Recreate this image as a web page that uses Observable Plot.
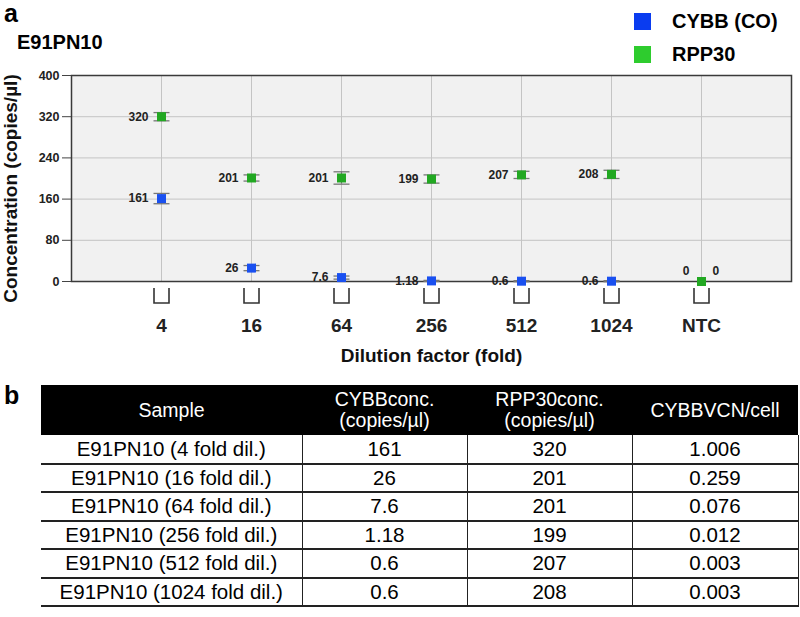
<!DOCTYPE html>
<html>
<head>
<meta charset="utf-8">
<script src="https://cdn.jsdelivr.net/npm/d3@7"></script>
<script src="https://cdn.jsdelivr.net/npm/@observablehq/plot@0.6"></script>
<style>
  html, body { margin: 0; padding: 0; background: #fff; }
  body { font-family: "Liberation Sans", Arial, sans-serif; }
  #wrap { position: relative; width: 800px; height: 617px; overflow: hidden; }
  #chart { position: absolute; left: 0; top: 0; }
  .panel { position: absolute; font-weight: bold; font-size: 25px; line-height: 1; }
  .title { position: absolute; left: 17px; top: 32px; font-weight: bold; font-size: 20px; line-height: 20px; }
  .leg { position: absolute; left: 634px; display: flex; align-items: center; font-weight: bold; font-size: 20px; }
  .leg span.sw { display: inline-block; width: 17px; height: 17px; margin-right: 21px; }
  table { position: absolute; left: 41px; top: 385px; border-collapse: collapse; table-layout: fixed; width: 757px; font-size: 20.5px; }
  th { background: #000; color: #fff; font-weight: normal; height: 50px; padding: 0; line-height: 21px; font-size: 19.5px; }
  td { height: 28.5px; padding: 0; text-align: center; border-bottom: 2px solid #222; border-right: 1.5px solid #222; line-height: 20px; box-sizing: border-box; }
</style>
</head>
<body>
<div id="wrap">
  <div id="chart"></div>
  <div class="panel" style="left:4px;top:1px;">a</div>
  <div class="title">E91PN10</div>
  <div id="legend"></div>
  <div class="panel" style="left:4px;top:383px;">b</div>
  <table id="tbl"></table>
</div>
<script>
// ---- data ----
const categories = ["4", "16", "64", "256", "512", "1024", "NTC"];
const cybbValues = [161, 26, 7.6, 1.18, 0.6, 0.6, 0];
const rpp30Values = [320, 201, 201, 199, 207, 208, 0];
const cybbErrors = [10, 5, 3, 1, 1, 1, 0];
const rpp30Errors = [8, 6, 12, 8, 7, 8, 0];
const cybbLabels = ["161", "26", "7.6", "1.18", "0.6", "0.6", "0"];
const rpp30Labels = ["320", "201", "201", "199", "207", "208", "0"];
const yTicks = [0, 80, 160, 240, 320, 400];
const seriesNames = ["CYBB (CO)", "RPP30"];
const seriesColors = ["#1a50f0", "#22a822"];
const legendColors = ["#0a3cf0", "#2ecc2e"];

const tableHeader = ["Sample", "CYBBconc.<br>(copies/µl)", "RPP30conc.<br>(copies/µl)", "CYBBVCN/cell"];
const tableSamples = ["E91PN10 (4 fold dil.)", "E91PN10 (16 fold dil.)", "E91PN10 (64 fold dil.)", "E91PN10 (256 fold dil.)", "E91PN10 (512 fold dil.)", "E91PN10 (1024 fold dil.)"];
const tableCybb = ["161", "26", "7.6", "1.18", "0.6", "0.6"];
const tableRpp30 = ["320", "201", "201", "199", "207", "208"];
const tableVcn = ["1.006", "0.259", "0.076", "0.012", "0.003", "0.003"];

// ---- build ----
const points = [];
categories.forEach((c, i) => {
  points.push({cat: c, series: seriesNames[0], value: cybbValues[i], err: cybbErrors[i], label: cybbLabels[i]});
});
categories.forEach((c, i) => {
  points.push({cat: c, series: seriesNames[1], value: rpp30Values[i], err: rpp30Errors[i], label: rpp30Labels[i]});
});
const withErr = points.filter(d => d.err > 0);
const mainPts = points.filter(d => d.cat !== "NTC");
const ntcPts = points.filter(d => d.cat === "NTC");

const bracket = {draw(ctx) { ctx.moveTo(-7.5, -7.5); ctx.lineTo(-7.5, 7.5); ctx.lineTo(7.5, 7.5); ctx.lineTo(7.5, -7.5); }};
const cap = {draw(ctx) { ctx.moveTo(-8, 0); ctx.lineTo(8, 0); }};
const square = {draw(ctx) { ctx.rect(-4.5, -4.5, 9, 9); }};

const font = "Liberation Sans, Arial, sans-serif";

const chart = Plot.plot({
  width: 800,
  height: 370,
  marginLeft: 71,
  marginRight: 9,
  marginTop: 75,
  marginBottom: 89,
  style: {fontFamily: font, color: "#222", background: "transparent"},
  x: {type: "point", domain: categories, padding: 1},
  y: {domain: [0, 400]},
  color: {domain: seriesNames, range: seriesColors},
  marks: [
    Plot.frame({fill: "#f1f1f1", stroke: "none"}),
    Plot.gridY(yTicks, {stroke: "#c4c4c4", strokeOpacity: 1}),
    Plot.gridX(categories, {stroke: "#c4c4c4", strokeOpacity: 1}),
    Plot.frame({stroke: "#3a3a3a", strokeWidth: 1.5}),
    Plot.axisY({ticks: yTicks, tickSize: 9, tickPadding: 3, fontSize: 12.5, fontWeight: "bold", label: null, stroke: "#444"}),
    Plot.axisX({tickSize: 0, tickPadding: 37, fontSize: 19, fontWeight: "bold", label: null}),
    Plot.dot(categories, {x: d => d, y: 0, dy: 14, symbol: bracket, r: 5, stroke: "#333", strokeWidth: 1.6, fill: "none"}),
    Plot.ruleX(withErr, {x: "cat", y1: d => d.value - d.err, y2: d => d.value + d.err, stroke: "#777", strokeWidth: 1.2}),
    Plot.dot(withErr, {x: "cat", y: d => d.value + d.err, symbol: cap, r: 5, stroke: "#777", strokeWidth: 1.3}),
    Plot.dot(withErr, {x: "cat", y: d => d.value - d.err, symbol: cap, r: 5, stroke: "#777", strokeWidth: 1.3}),
    Plot.dot(points, {x: "cat", y: "value", symbol: square, r: 5, fill: "series", stroke: "none"}),
    Plot.text(mainPts, {x: "cat", y: "value", text: "label", dx: -13, textAnchor: "end", fontSize: 12, fontWeight: "bold", fill: "#222"}),
    Plot.text(ntcPts.filter(d => d.series === seriesNames[0]), {x: "cat", y: "value", text: "label", dx: -12, dy: -10, textAnchor: "end", fontSize: 12, fontWeight: "bold", fill: "#222"}),
    Plot.text(ntcPts.filter(d => d.series === seriesNames[1]), {x: "cat", y: "value", text: "label", dx: 11, dy: -10, textAnchor: "start", fontSize: 12, fontWeight: "bold", fill: "#222"}),
    Plot.text(["Concentration (copies/µl)"], {text: d => d, frameAnchor: "left", dx: -61, dy: 10, rotate: -90, textAnchor: "middle", lineAnchor: "middle", fontSize: 19, fontWeight: "bold", fill: "#111"}),
    Plot.text(["Dilution factor (fold)"], {text: d => d, frameAnchor: "bottom", dy: 74, textAnchor: "middle", lineAnchor: "middle", fontSize: 19, fontWeight: "bold", fill: "#111"})
  ]
});
document.getElementById("chart").appendChild(chart);

// legend
const legend = document.getElementById("legend");
seriesNames.forEach((name, i) => {
  const row = document.createElement("div");
  row.className = "leg";
  row.style.top = (10 + i * 33) + "px";
  row.innerHTML = `<span class="sw" style="background:${legendColors[i]}"></span><span>${name}</span>`;
  legend.appendChild(row);
});

// table
const tbl = document.getElementById("tbl");
const colW = [261, 165, 165, 166];
let html = "<colgroup>" + colW.map(w => `<col style="width:${w}px">`).join("") + "</colgroup>";
html += "<tr>" + tableHeader.map(h => `<th>${h}</th>`).join("") + "</tr>";
tableSamples.forEach((s, i) => {
  html += `<tr><td>${s}</td><td>${tableCybb[i]}</td><td>${tableRpp30[i]}</td><td>${tableVcn[i]}</td></tr>`;
});
tbl.innerHTML = html;
</script>
</body>
</html>
